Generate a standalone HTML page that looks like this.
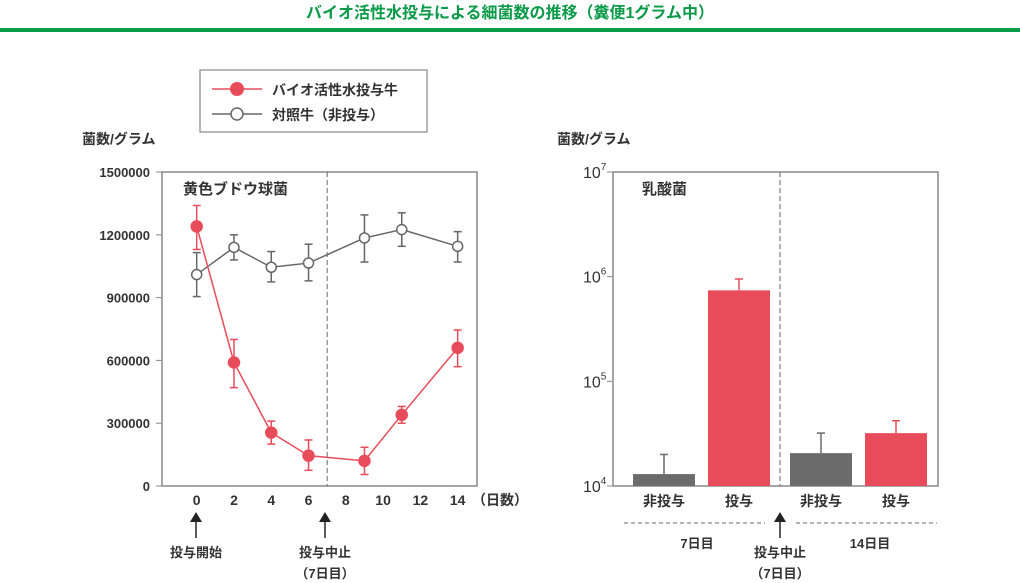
<!DOCTYPE html>
<html><head><meta charset="utf-8"><style>
body{margin:0;background:#fff;}
svg{display:block;font-family:"Liberation Sans","Noto Sans CJK JP",sans-serif;}
</style></head><body>
<svg id="c" width="1020" height="583" viewBox="0 0 1020 583">
<text x="510" y="18" text-anchor="middle" font-size="16" font-weight="bold" fill="#0a9a48">バイオ活性水投与による細菌数の推移（糞便1グラム中）</text>
<rect x="0" y="28" width="1020" height="4" fill="#0a9a48"/>
<g>
<rect x="200" y="70" width="227" height="62" fill="#fff" stroke="#888" stroke-width="1.2"/>
<g>
<line x1="212" y1="89" x2="262" y2="89" stroke="#e84c5a" stroke-width="1.5"/><circle cx="237" cy="89" r="7" fill="#e84c5a"/>
<text x="272" y="95" font-size="14" font-weight="bold" fill="#333">バイオ活性水投与牛</text></g>
<g>
<line x1="212" y1="114" x2="262" y2="114" stroke="#666" stroke-width="1.5"/><circle cx="237" cy="114" r="6" fill="#fff" stroke="#666" stroke-width="1.5"/>
<text x="272" y="120" font-size="14" font-weight="bold" fill="#333">対照牛（非投与）</text></g>
</g>
<text x="82" y="144" font-size="14" font-weight="bold" fill="#333">菌数/グラム</text>
<text x="557" y="144" font-size="14" font-weight="bold" fill="#333">菌数/グラム</text>
<g id="left"></g>
<g id="right"></g>
<g font-size="13" font-weight="bold" fill="#333">
<line x1="196" y1="538" x2="196" y2="520" stroke="#222" stroke-width="1.5"/><polygon points="190,522 196,512 202,522" fill="#222"/>
<text x="196" y="557" text-anchor="middle">投与開始</text>
<line x1="325" y1="538" x2="325" y2="520" stroke="#222" stroke-width="1.5"/><polygon points="319,522 325,512 331,522" fill="#222"/>
<text x="325" y="557" text-anchor="middle">投与中止</text>
<text x="325" y="578" text-anchor="middle">（7日目）</text>
<line x1="624" y1="523" x2="765" y2="523" stroke="#666" stroke-dasharray="4,3"/>
<line x1="796" y1="523" x2="937" y2="523" stroke="#666" stroke-dasharray="4,3"/>
<line x1="780" y1="538" x2="780" y2="520" stroke="#222" stroke-width="1.5"/><polygon points="774,522 780,512 786,522" fill="#222"/>
<text x="697" y="548" text-anchor="middle">7日目</text>
<text x="870" y="548" text-anchor="middle">14日目</text>
<text x="780" y="557" text-anchor="middle">投与中止</text>
<text x="780" y="578" text-anchor="middle">（7日目）</text>
</g>
</svg>
<script>
const days=[0,2,4,6,9,11,14];
const treated=[1240000,590000,255000,145000,120000,340000,660000];
const treatedHi=[1340000,700000,310000,220000,185000,380000,745000];
const treatedLo=[1130000,470000,200000,75000,55000,300000,570000];
const control=[1010000,1140000,1045000,1065000,1185000,1225000,1145000];
const controlHi=[1115000,1200000,1120000,1155000,1295000,1305000,1215000];
const controlLo=[905000,1080000,975000,980000,1070000,1145000,1070000];
const yTicks=[0,300000,600000,900000,1200000,1500000];
const xTicks=[0,2,4,6,8,10,12,14];
const barCats=["非投与","投与","非投与","投与"];
const barVals=[13000,740000,20600,32000];
const barErr=[20000,950000,32000,42000];
const logTicks=[4,5,6,7];
const NS="http://www.w3.org/2000/svg";
function mk(p,t,a,txt){const e=document.createElementNS(NS,t);for(const k in a)e.setAttribute(k,a[k]);if(txt!==undefined)e.textContent=txt;p.appendChild(e);return e;}
const L=document.getElementById('left');
const x=d=>196.7+d*18.64, y=v=>486-v/1500000*314;
let e=mk(L,'rect',{x:162,y:172,width:315,height:314,fill:'none',stroke:'#888','stroke-width':1.5});


yTicks.forEach(t=>{let g=mk(L,'g',{});


mk(g,'line',{x1:156,x2:162,y1:y(t),y2:y(t),stroke:'#888'});
mk(g,'text',{x:150,y:y(t)+5,'text-anchor':'end','font-size':13,'font-weight':'bold',fill:'#333'},String(t));});
xTicks.forEach(t=>{let g=mk(L,'text',{x:x(t),y:505,'text-anchor':'middle','font-size':14,'font-weight':'bold',fill:'#333'},String(t));

});
e=mk(L,'text',{x:472,y:505,'font-size':14,'font-weight':'bold',fill:'#333'},'（日数）');


e=mk(L,'line',{x1:x(7),x2:x(7),y1:172,y2:486,stroke:'#666','stroke-dasharray':'5,3'});


e=mk(L,'text',{x:183,y:194,'font-size':15,'font-weight':'bold',fill:'#333'},'黄色ブドウ球菌');


function series(vals,hi,lo,col,filled,name){
 const g=mk(L,'g',{});
 
 
 mk(g,'polyline',{points:days.map((d,i)=>x(d)+','+y(vals[i])).join(' '),fill:'none',stroke:col,'stroke-width':1.5});
 days.forEach((d,i)=>{const c=mk(g,'g',{});
 
 
 mk(c,'line',{x1:x(d),x2:x(d),y1:y(hi[i]),y2:y(lo[i]),stroke:col,'stroke-width':1.5});
 mk(c,'line',{x1:x(d)-4,x2:x(d)+4,y1:y(hi[i]),y2:y(hi[i]),stroke:col,'stroke-width':1.5});
 mk(c,'line',{x1:x(d)-4,x2:x(d)+4,y1:y(lo[i]),y2:y(lo[i]),stroke:col,'stroke-width':1.5});
 mk(c,'circle',{cx:x(d),cy:y(vals[i]),r:filled?5.5:5,fill:filled?col:'#fff',stroke:col,'stroke-width':1.5});});
}
series(control,controlHi,controlLo,'#666',false,'control-series');
series(treated,treatedHi,treatedLo,'#e84c5a',true,'treated-series');
const R=document.getElementById('right');
const ly=v=>486-(Math.log10(v)-4)*104.67;
e=mk(R,'rect',{x:613,y:172,width:325,height:314,fill:'none',stroke:'#888','stroke-width':1.5});


logTicks.forEach(t=>{const g=mk(R,'g',{});


const yy=486-(t-4)*104.67;
mk(g,'line',{x1:607,x2:613,y1:yy,y2:yy,stroke:'#888'});
const tx=mk(g,'text',{x:583,y:yy+6,'font-size':16,fill:'#333'},'10');
mk(tx,'tspan',{dy:-8,'font-size':10},String(t));});
e=mk(R,'line',{x1:780,x2:780,y1:172,y2:486,stroke:'#666','stroke-dasharray':'5,3'});


e=mk(R,'text',{x:642,y:194,'font-size':15,'font-weight':'bold',fill:'#333'},'乳酸菌');


const bx=[633,708,790,865];
barCats.forEach((c,i)=>{const col=i%2?'#e84c5a':'#6b6b6b';
const g=mk(R,'g',{});


mk(g,'line',{x1:bx[i]+31,x2:bx[i]+31,y1:ly(barErr[i]),y2:ly(barVals[i]),stroke:col,'stroke-width':1.5});
mk(g,'line',{x1:bx[i]+27,x2:bx[i]+35,y1:ly(barErr[i]),y2:ly(barErr[i]),stroke:col,'stroke-width':1.5});
mk(g,'rect',{x:bx[i],y:ly(barVals[i]),width:62,height:486-ly(barVals[i]),fill:col});
mk(g,'text',{x:bx[i]+31,y:506,'text-anchor':'middle','font-size':14,'font-weight':'bold',fill:'#333'},c);});
</script>
</body></html>
